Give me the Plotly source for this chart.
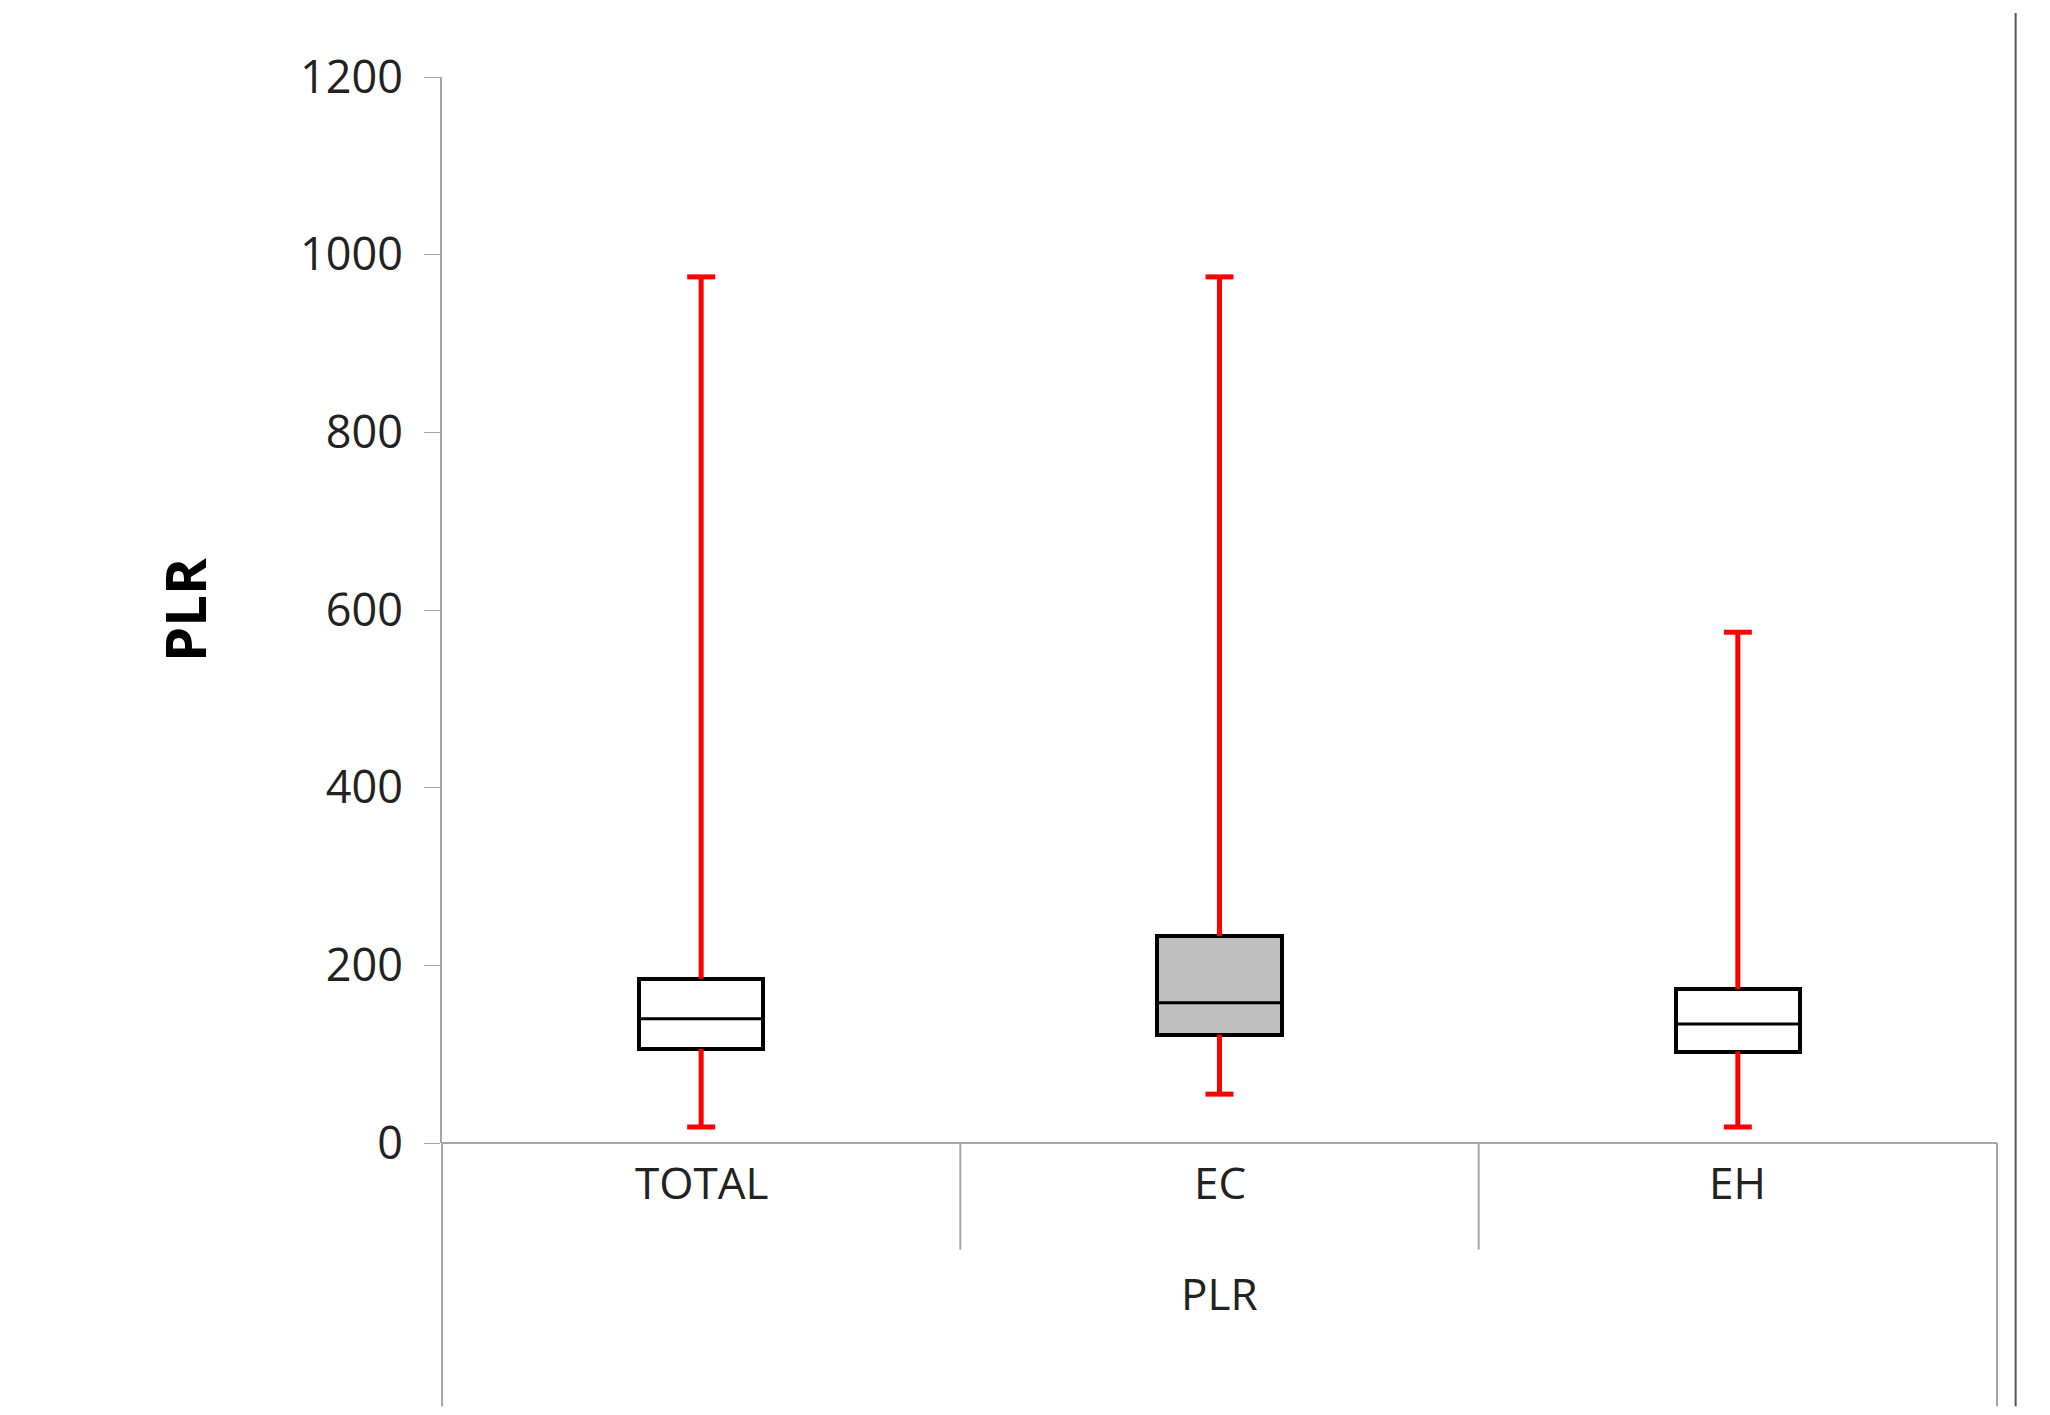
import plotly.graph_objects as go

categories = ["TOTAL", "EC", "EH"]
mins = [18, 55, 18]
q1s = [106, 122, 103]
medians = [140, 158, 134]
q3s = [185, 233, 173]
maxs = [975, 975, 575]
fills = ["white", "#bfbfbf", "white"]
group_label = "PLR"

x = list(range(len(categories)))
fig = go.Figure()
wx, wy = [], []
for xi, lo, a, b, hi in zip(x, mins, q1s, q3s, maxs):
    wx += [xi, xi, None, xi, xi, None]
    wy += [lo, a, None, b, hi, None]
fig.add_trace(go.Scatter(x=wx, y=wy, mode="lines", line=dict(color="red", width=5),
                         showlegend=False, hoverinfo="skip"))
fig.add_trace(go.Scatter(x=x + x, y=mins + maxs, mode="markers",
                         marker=dict(symbol="line-ew-open", size=20, color="red",
                                     line=dict(color="red", width=5)),
                         showlegend=False, hoverinfo="skip"))
fig.add_trace(go.Bar(
    x=x, y=[a - b for a, b in zip(q3s, q1s)], base=q1s, width=0.24,
    marker=dict(color=fills, line=dict(color="black", width=4)), showlegend=False))
fig.add_trace(go.Scatter(
    x=x, y=medians, mode="markers",
    marker=dict(symbol="line-ew-open", size=88, color="black", line=dict(color="black", width=3)),
    showlegend=False))

font = "Open Sans, DejaVu Sans, sans-serif"
fig.update_layout(
    width=2050, height=1415, plot_bgcolor="white", paper_bgcolor="white",
    margin=dict(l=434, r=61, t=69, b=280), font=dict(family=font, size=44, color="#222"),
    xaxis=dict(range=[-0.5, 2.5], tickvals=x, ticktext=categories, showticklabels=False,
               showgrid=False, zeroline=False, showline=False),
    yaxis=dict(range=[0, 1200], dtick=200, showgrid=False, zeroline=False, showline=True,
               linecolor="#a6a6a6", linewidth=2, ticks="outside", ticklen=16,
               tickcolor="#a6a6a6", tickfont=dict(size=45), ticklabelstandoff=12,
               title=dict(text="<b>PLR</b>", font=dict(size=56, color="black"), standoff=75)),
    bargap=0,
)
fig.add_shape(type="line", xref="paper", yref="paper", x0=0, x1=1, y0=0, y1=0,
              line=dict(color="#a6a6a6", width=2))
fig.add_shape(type="line", xref="paper", yref="paper", x0=0, x1=0, y0=0, y1=-0.247,
              line=dict(color="#a6a6a6", width=2))
fig.add_shape(type="line", xref="paper", yref="paper", x0=1, x1=1, y0=0, y1=-0.247,
              line=dict(color="#a6a6a6", width=2))
for b in [1/3, 2/3]:
    fig.add_shape(type="line", xref="paper", yref="paper", x0=b, x1=b, y0=0, y1=-0.1,
                  line=dict(color="#a6a6a6", width=2))
fig.add_shape(type="line", xref="paper", yref="paper", x0=1.012, x1=1.012, y0=1.06, y1=-0.247,
              line=dict(color="#555", width=2))
for xi, c in zip(x, categories):
    fig.add_annotation(x=xi, y=-0.067, xref="x", yref="paper", text=c, showarrow=False,
                       font=dict(size=44))
fig.add_annotation(x=0.5, y=-0.171, xref="paper", yref="paper", text=group_label,
                   showarrow=False, font=dict(size=44))
fig.write_html("out.html")
